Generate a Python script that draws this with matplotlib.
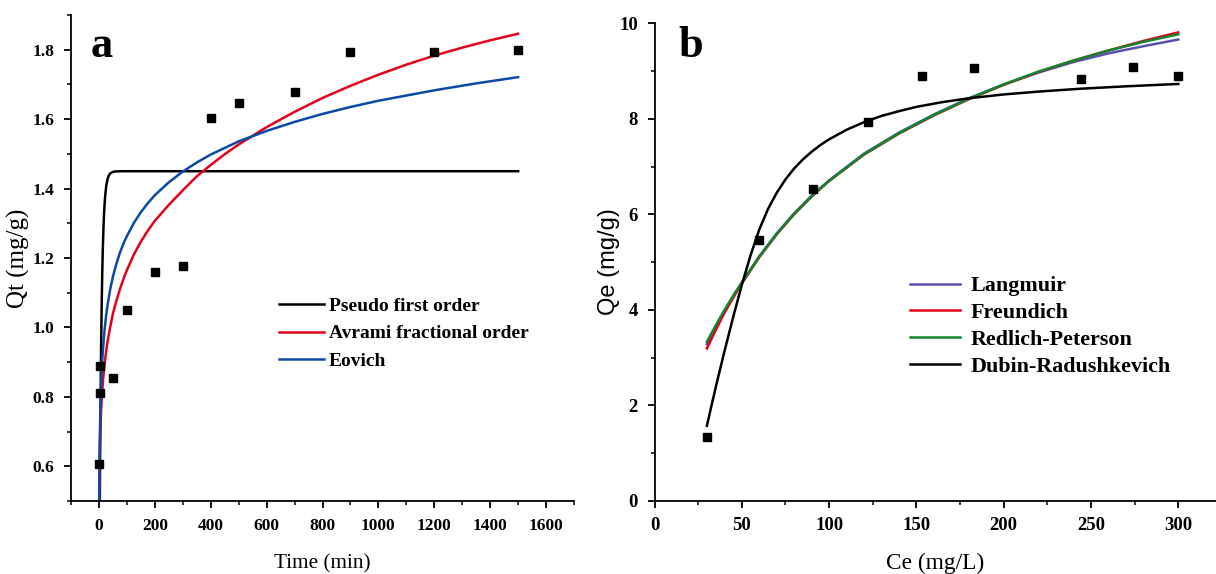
import matplotlib
matplotlib.use("Agg")
import matplotlib.pyplot as plt
from matplotlib.ticker import MultipleLocator

plt.rcParams['font.family'] = ['Liberation Serif', 'DejaVu Serif']

red = '#e3001b'
blue = '#0a4aa6'
purple = '#5a4fb0'
green = '#10872e'

# ---- panel a: kinetics ----
t_exp = [1, 2, 5, 50, 100, 200, 300, 400, 500, 700, 900, 1200, 1500]
qt_exp = [0.608, 0.81, 0.888, 0.853, 1.05, 1.16, 1.177, 1.604, 1.647, 1.677, 1.793, 1.793, 1.80]

t_pfo = [0, 1, 2, 3, 4, 5, 6, 7, 8, 9, 10, 12, 14, 16, 18, 20, 23, 26, 30, 35, 40, 50,
         60, 80, 1500]
q_pfo = [0.0, 0.183, 0.344, 0.483, 0.605, 0.712, 0.805, 0.886, 0.957, 1.019, 1.074,
         1.163, 1.231, 1.283, 1.323, 1.353, 1.385, 1.407, 1.425, 1.437, 1.4435, 1.448,
         1.4494, 1.45, 1.45]

t_avr = [0.5, 1, 2, 3, 4, 5, 6, 8, 10, 12, 15, 20, 25, 30, 40, 50, 60, 75, 90, 100, 125,
         150, 175, 200, 250, 300, 350, 400, 450, 500, 600, 700, 800, 900, 1000, 1100,
         1200, 1300, 1400, 1500]
q_avr = [0.47, 0.53, 0.60, 0.645, 0.68, 0.705, 0.728, 0.765, 0.795, 0.82, 0.852, 0.893,
         0.926, 0.955, 1.00, 1.04, 1.07, 1.11, 1.145, 1.165, 1.21, 1.247, 1.279, 1.307,
         1.353, 1.395, 1.435, 1.468, 1.499, 1.527, 1.577, 1.621, 1.661, 1.696, 1.728,
         1.757, 1.783, 1.806, 1.827, 1.846]

t_elo = [1, 2, 3, 4, 5, 6, 8, 10, 12, 15, 20, 25, 30, 40, 50, 60, 75, 90, 100, 125, 150,
         175, 200, 250, 300, 350, 400, 500, 600, 700, 800, 900, 1000, 1200, 1350, 1500]
q_elo = [0.485, 0.602, 0.671, 0.719, 0.757, 0.788, 0.837, 0.874, 0.905, 0.943, 0.992,
         1.029, 1.060, 1.109, 1.146, 1.177, 1.215, 1.246, 1.263, 1.301, 1.332, 1.358,
         1.381, 1.418, 1.449, 1.475, 1.498, 1.536, 1.566, 1.592, 1.615, 1.635, 1.653,
         1.683, 1.703, 1.721]

# ---- panel b: isotherms ----
ce_exp = [30, 60, 91, 122, 153, 183, 244, 274, 300]
qe_exp = [1.33, 5.46, 6.53, 7.94, 8.89, 9.06, 8.83, 9.08, 8.90]

ce_fit = [30, 35, 40, 45, 50, 60, 70, 80, 90, 100, 120, 140, 160, 180, 200, 220, 240,
          260, 280, 300]
q_lang = [3.28, 3.64, 3.97, 4.28, 4.57, 5.12, 5.60, 6.02, 6.39, 6.71, 7.27, 7.71, 8.09,
          8.43, 8.72, 8.97, 9.19, 9.37, 9.52, 9.66]
q_freu = [3.19, 3.57, 3.93, 4.25, 4.55, 5.10, 5.58, 6.00, 6.37, 6.70, 7.25, 7.69, 8.07,
          8.41, 8.71, 8.98, 9.22, 9.43, 9.63, 9.81]
q_rp = [3.33, 3.67, 3.99, 4.29, 4.57, 5.11, 5.59, 6.01, 6.38, 6.70, 7.26, 7.70, 8.08,
        8.42, 8.72, 8.99, 9.22, 9.43, 9.61, 9.77]

ce_dr = [30, 33, 36, 40, 45, 50, 55, 60, 65, 70, 75, 80, 85, 90, 95, 100, 110, 120, 130,
         140, 150, 165, 180, 200, 220, 244, 270, 300]
q_dr = [1.57, 2.05, 2.52, 3.12, 3.84, 4.52, 5.14, 5.68, 6.11, 6.45, 6.73, 6.96, 7.15,
        7.31, 7.45, 7.57, 7.77, 7.93, 8.06, 8.16, 8.25, 8.35, 8.43, 8.51, 8.57, 8.63,
        8.68, 8.73]

fig = plt.figure(figsize=(12.16, 5.74), dpi=100)
ax1 = fig.add_axes([71/1216, 73/574, 503/1216, 486/574])
ax2 = fig.add_axes([654.5/1216, 73.2/574, 561.5/1216, 477.5/574])

lw = 1.8
ax1.plot(t_pfo, q_pfo, color='black', lw=lw, label='Pseudo first order')
ax1.plot(t_avr, q_avr, color=red, lw=lw, label='Avrami fractional order')
ax1.plot(t_elo, q_elo, color=blue, lw=lw, label='Eovich')
ax1.plot(t_exp, qt_exp, 's', color='black', ms=5.5, zorder=5)

ax1.set_xlim(-100, 1700)
ax1.set_ylim(0.5, 1.9)
ax1.xaxis.set_major_locator(MultipleLocator(200))
ax1.xaxis.set_minor_locator(MultipleLocator(100))
ax1.yaxis.set_minor_locator(MultipleLocator(0.1))
ax1.set_yticks([0.6, 0.8, 1.0, 1.2, 1.4, 1.6, 1.8])
ax1.set_xlabel('Time (min)', fontsize=15.3, labelpad=15)
ax1.set_ylabel('Qt (mg/g)', fontsize=18)
ax1.yaxis.set_label_coords(-0.082, 0.5)
ax1.text(0.039, 0.9136, 'a', transform=ax1.transAxes, fontsize=32,
         fontweight='bold', va='baseline')
ax1.legend(loc='upper left', bbox_to_anchor=(279/1216, 1 - 297/574),
           bbox_transform=fig.transFigure, frameon=False, borderpad=0,
           borderaxespad=0, handlelength=2.3, handletextpad=0.25,
           labelspacing=0.52, prop={'weight': 'bold', 'size': 14})

ax2.plot(ce_fit, q_lang, color=purple, lw=lw, label='Langmuir')
ax2.plot(ce_fit, q_freu, color=red, lw=lw, label='Freundich')
ax2.plot(ce_fit, q_rp, color=green, lw=lw, label='Redlich-Peterson')
ax2.plot(ce_dr, q_dr, color='black', lw=lw, label='Dubin-Radushkevich')
ax2.plot(ce_exp, qe_exp, 's', color='black', ms=5.5, zorder=5)

ax2.set_xlim(0, 321.6)
ax2.set_ylim(0, 10)
ax2.xaxis.set_major_locator(MultipleLocator(50))
ax2.xaxis.set_minor_locator(MultipleLocator(25))
ax2.yaxis.set_major_locator(MultipleLocator(2))
ax2.yaxis.set_minor_locator(MultipleLocator(1))
ax2.set_xlabel('Ce (mg/L)', fontsize=16.8, labelpad=13)
ax2.set_ylabel('Qe (mg/g)', fontsize=17, family=['Liberation Sans', 'DejaVu Sans'])
ax2.yaxis.set_label_coords(-0.0614, 0.5)
ax2.text(0.043, 0.9294, 'b', transform=ax2.transAxes, fontsize=32,
         fontweight='bold', va='baseline')
ax2.legend(loc='upper left', bbox_to_anchor=(910/1216, 1 - 276/574),
           bbox_transform=fig.transFigure, frameon=False, borderpad=0,
           borderaxespad=0, handlelength=2.3, handletextpad=0.45,
           labelspacing=0.29, prop={'weight': 'bold', 'size': 15.8})

for ax, ls in ((ax1, 12.5), (ax2, 13.5)):
    ax.spines['top'].set_visible(False)
    ax.spines['right'].set_visible(False)
    ax.spines['left'].set_linewidth(1.3)
    ax.spines['bottom'].set_linewidth(1.3)
    ax.tick_params(which='major', direction='out', length=5, width=1.3,
                   labelsize=ls, pad=7)
    ax.tick_params(which='minor', direction='out', length=3, width=1.1)
    for lab in ax.get_xticklabels() + ax.get_yticklabels():
        lab.set_fontweight('bold')

fig.savefig('out.png', dpi=100)
